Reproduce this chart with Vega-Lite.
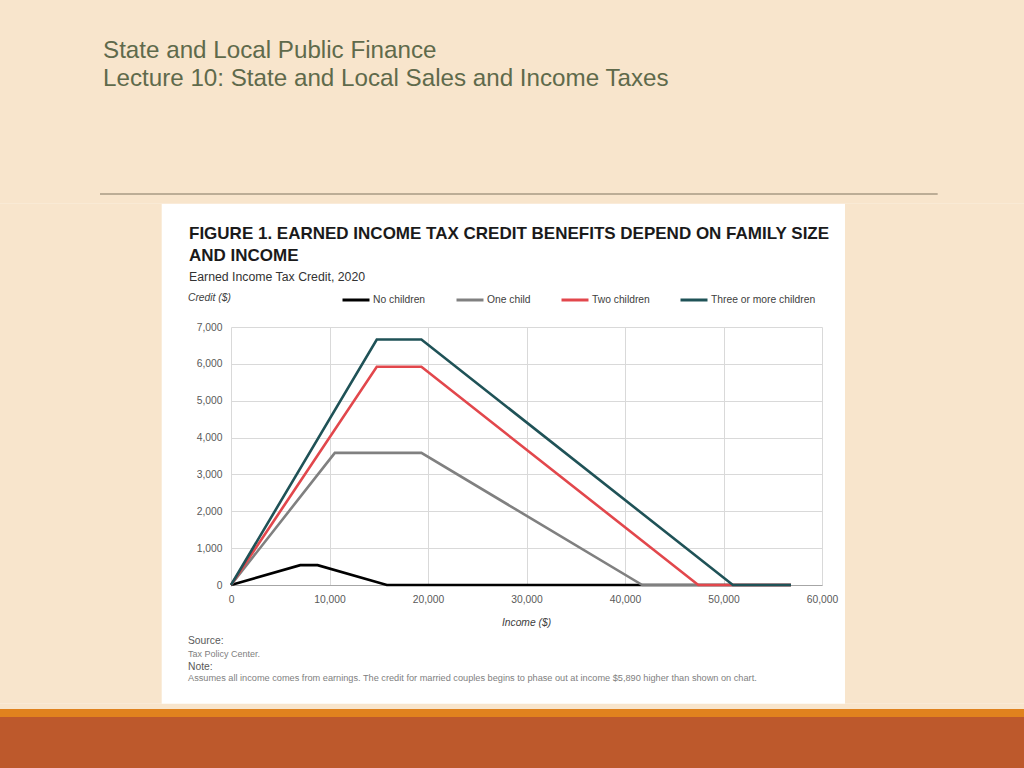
{
  "$schema": "https://vega.github.io/schema/vega-lite/v6.json",
  "width": 591,
  "height": 258,
  "autosize": {"type": "none"},
  "padding": {"left": 231, "top": 327, "right": 202, "bottom": 183},
  "background": "#ffffff",
  "config": {
    "view": {"stroke": null},
    "font": "Liberation Sans",
    "axis": {
      "grid": true,
      "gridColor": "#d9d9d9",
      "gridWidth": 1,
      "ticks": false,
      "domain": false,
      "labelColor": "#595959",
      "labelFont": "Liberation Sans",
      "labelFontSize": 10.3,
      "labelPadding": 9,
      "labelOverlap": false,
      "labelFlush": false,
      "format": ",d"
    },
    "axisY": {"tickCount": 8},
    "axisX": {"tickCount": 7, "domain": true, "domainColor": "#a6a6a6", "domainWidth": 1},
    "legend": {
      "labelFont": "Liberation Sans",
      "labelFontSize": 10.3,
      "labelColor": "#404040"
    }
  },
  "layer": [
    {
      "data": {"values": [
        {"series": "No children", "income": 0, "credit": 0},
        {"series": "No children", "income": 7030, "credit": 538},
        {"series": "No children", "income": 8790, "credit": 538},
        {"series": "No children", "income": 15820, "credit": 0},
        {"series": "No children", "income": 56850, "credit": 0},
        {"series": "One child", "income": 0, "credit": 0},
        {"series": "One child", "income": 10540, "credit": 3584},
        {"series": "One child", "income": 19330, "credit": 3584},
        {"series": "One child", "income": 41756, "credit": 0},
        {"series": "One child", "income": 56850, "credit": 0},
        {"series": "Two children", "income": 0, "credit": 0},
        {"series": "Two children", "income": 14800, "credit": 5920},
        {"series": "Two children", "income": 19330, "credit": 5920},
        {"series": "Two children", "income": 47440, "credit": 0},
        {"series": "Two children", "income": 56850, "credit": 0},
        {"series": "Three or more children", "income": 0, "credit": 0},
        {"series": "Three or more children", "income": 14800, "credit": 6660},
        {"series": "Three or more children", "income": 19330, "credit": 6660},
        {"series": "Three or more children", "income": 50954, "credit": 0},
        {"series": "Three or more children", "income": 56850, "credit": 0}
      ]},
      "mark": {"type": "line", "strokeWidth": 2.6, "clip": false},
      "encoding": {
        "x": {"field": "income", "type": "quantitative",
              "scale": {"domain": [0, 60000], "nice": false, "zero": false},
              "axis": {"title": null, "values": [0, 10000, 20000, 30000, 40000, 50000, 60000], "format": ",d"}},
        "y": {"field": "credit", "type": "quantitative",
              "scale": {"domain": [0, 7000], "nice": false, "zero": false},
              "axis": {"title": null, "values": [0, 1000, 2000, 3000, 4000, 5000, 6000, 7000], "format": ",d"}},
        "color": {"field": "series", "type": "nominal",
                  "scale": {"domain": ["No children", "One child", "Two children", "Three or more children"],
                            "range": ["#000000", "#808080", "#e2474c", "#1f5257"]},
                  "legend": {"orient": "none", "legendX": 110, "legendY": -42, "direction": "horizontal", "title": null,
                             "symbolType": "stroke", "symbolSize": 729, "symbolStrokeWidth": 3, "labelOffset": 2,
                             "columnPadding": 24, "padding": 0}},
        "order": {"field": "income", "type": "quantitative"}
      }
    },
    {"data": {"values": [{}]}, "mark": {"type": "rect", "color": "#f8e5cc"},
     "encoding": {"x": {"datum": -24000, "type": "quantitative"}, "x2": {"datum": 81000},
                  "y": {"datum": 16500, "type": "quantitative"}, "y2": {"datum": 10345}}},
    {"data": {"values": [{}]}, "mark": {"type": "rect", "color": "#f8e5cc"},
     "encoding": {"x": {"datum": -24000, "type": "quantitative"}, "x2": {"datum": 81000},
                  "y": {"datum": -3221, "type": "quantitative"}, "y2": {"datum": -5500}}},
    {"data": {"values": [{}]}, "mark": {"type": "rect", "color": "#f8e5cc"},
     "encoding": {"x": {"datum": -24000, "type": "quantitative"}, "x2": {"datum": -7035},
                  "y": {"datum": 10345, "type": "quantitative"}, "y2": {"datum": -3221}}},
    {"data": {"values": [{}]}, "mark": {"type": "rect", "color": "#f8e5cc"},
     "encoding": {"x": {"datum": 62333, "type": "quantitative"}, "x2": {"datum": 81000},
                  "y": {"datum": 10345, "type": "quantitative"}, "y2": {"datum": -3221}}},
    {"data": {"values": [{}]}, "mark": {"type": "rect", "color": "#e0821e"},
     "encoding": {"x": {"datum": -24000, "type": "quantitative"}, "x2": {"datum": 81000},
                  "y": {"datum": -3364, "type": "quantitative"}, "y2": {"datum": -3581}}},
    {"data": {"values": [{}]}, "mark": {"type": "rect", "color": "#bd592c"},
     "encoding": {"x": {"datum": -24000, "type": "quantitative"}, "x2": {"datum": 81000},
                  "y": {"datum": -3581, "type": "quantitative"}, "y2": {"datum": -5500}}},
    {"data": {"values": [{}]}, "mark": {"type": "rule", "color": "#a89a84", "strokeWidth": 1.5},
     "encoding": {"x": {"datum": -13299, "type": "quantitative"}, "x2": {"datum": 71744},
                  "y": {"datum": 10609, "type": "quantitative"}}},
    {"data": {"values": [{}]},
     "mark": {"type": "text", "align": "left", "baseline": "alphabetic", "font": "Liberation Sans", "fontSize": 24.2, "color": "#5f6a4b"},
     "encoding": {"x": {"datum": -12995, "type": "quantitative"}, "y": {"datum": 14285, "type": "quantitative"},
                  "text": {"value": "State and Local Public Finance"}}},
    {"data": {"values": [{}]},
     "mark": {"type": "text", "align": "left", "baseline": "alphabetic", "font": "Liberation Sans", "fontSize": 24.2, "color": "#5f6a4b"},
     "encoding": {"x": {"datum": -12995, "type": "quantitative"}, "y": {"datum": 13539, "type": "quantitative"},
                  "text": {"value": "Lecture 10: State and Local Sales and Income Taxes"}}},
    {"data": {"values": [{}]},
     "mark": {"type": "text", "align": "left", "baseline": "alphabetic", "font": "Liberation Sans", "fontWeight": "bold", "fontSize": 17, "lineHeight": 22, "color": "#1a1a1a"},
     "encoding": {"x": {"datum": -4264, "type": "quantitative"}, "y": {"datum": 9380, "type": "quantitative"},
                  "text": {"value": ["FIGURE 1. EARNED INCOME TAX CREDIT BENEFITS DEPEND ON FAMILY SIZE", "AND INCOME"]}}},
    {"data": {"values": [{}]},
     "mark": {"type": "text", "align": "left", "baseline": "alphabetic", "font": "Liberation Sans", "fontSize": 12.3, "color": "#333333"},
     "encoding": {"x": {"datum": -4264, "type": "quantitative"}, "y": {"datum": 8248, "type": "quantitative"},
                  "text": {"value": "Earned Income Tax Credit, 2020"}}},
    {"data": {"values": [{}]},
     "mark": {"type": "text", "align": "left", "baseline": "alphabetic", "font": "Liberation Sans", "fontStyle": "italic", "fontSize": 10.3, "color": "#404040"},
     "encoding": {"x": {"datum": -4365, "type": "quantitative"}, "y": {"datum": 7705, "type": "quantitative"},
                  "text": {"value": "Credit ($)"}}},
    {"data": {"values": [{}]},
     "mark": {"type": "text", "align": "center", "baseline": "alphabetic", "font": "Liberation Sans", "fontStyle": "italic", "fontSize": 10.3, "color": "#404040"},
     "encoding": {"x": {"datum": 30000, "type": "quantitative"}, "y": {"datum": -1112, "type": "quantitative"},
                  "text": {"value": "Income ($)"}}},
    {"data": {"values": [{}]},
     "mark": {"type": "text", "align": "left", "baseline": "alphabetic", "font": "Liberation Sans", "fontSize": 10.3, "color": "#595959"},
     "encoding": {"x": {"datum": -4365, "type": "quantitative"}, "y": {"datum": -1601, "type": "quantitative"},
                  "text": {"value": "Source:"}}},
    {"data": {"values": [{}]},
     "mark": {"type": "text", "align": "left", "baseline": "alphabetic", "font": "Liberation Sans", "fontSize": 9, "color": "#808080"},
     "encoding": {"x": {"datum": -4365, "type": "quantitative"}, "y": {"datum": -1945, "type": "quantitative"},
                  "text": {"value": "Tax Policy Center."}}},
    {"data": {"values": [{}]},
     "mark": {"type": "text", "align": "left", "baseline": "alphabetic", "font": "Liberation Sans", "fontSize": 10.3, "color": "#595959"},
     "encoding": {"x": {"datum": -4365, "type": "quantitative"}, "y": {"datum": -2306, "type": "quantitative"},
                  "text": {"value": "Note:"}}},
    {"data": {"values": [{}]},
     "mark": {"type": "text", "align": "left", "baseline": "alphabetic", "font": "Liberation Sans", "fontSize": 9.2, "color": "#808080"},
     "encoding": {"x": {"datum": -4365, "type": "quantitative"}, "y": {"datum": -2605, "type": "quantitative"},
                  "text": {"value": "Assumes all income comes from earnings. The credit for married couples begins to phase out at income $5,890 higher than shown on chart."}}}
  ]
}
